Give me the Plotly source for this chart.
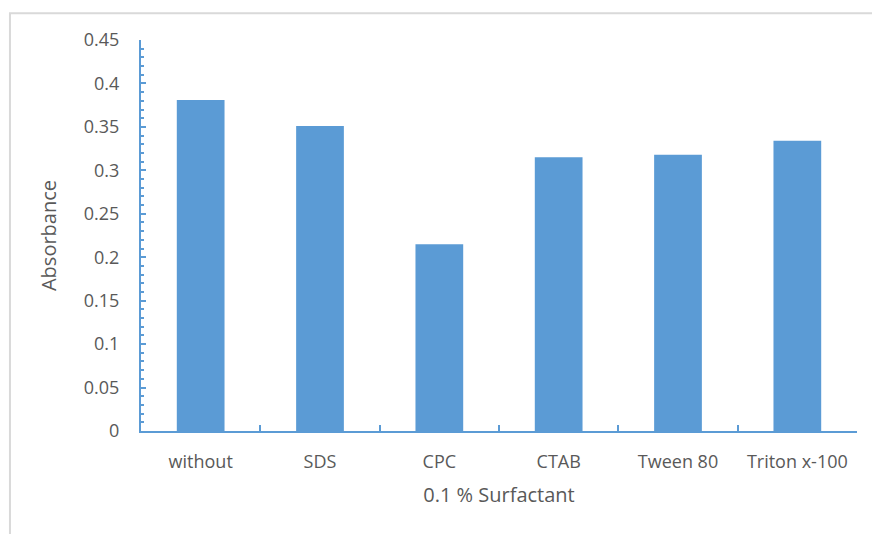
import plotly.graph_objects as go

categories = ["without", "SDS", "CPC", "CTAB", "Tween 80", "Triton x-100"]
absorbance = [0.381, 0.351, 0.215, 0.315, 0.318, 0.334]
y_ticks = [0, 0.05, 0.1, 0.15, 0.2, 0.25, 0.3, 0.35, 0.4, 0.45]
y_tick_labels = ["0", "0.05", "0.1", "0.15", "0.2", "0.25", "0.3", "0.35", "0.4", "0.45"]

BLUE = "#5B9BD5"
TEXT = "#595959"
FONT = "Open Sans, Noto Sans, sans-serif"

fig = go.Figure(
    go.Bar(
        x=categories,
        y=absorbance,
        marker=dict(color=BLUE, line=dict(width=0)),
    )
)

fig.update_layout(
    width=872,
    height=534,
    margin=dict(l=141, r=15, t=40, b=103),
    paper_bgcolor="white",
    plot_bgcolor="white",
    bargap=0.6,
    showlegend=False,
    font=dict(family=FONT, color=TEXT, size=18),
    shapes=[
        dict(
            type="rect", xref="paper", yref="paper",
            x0=-0.183, x1=1.2, y0=-0.5, y1=1.0685,
            line=dict(color="#D9D9D9", width=2),
            fillcolor="rgba(0,0,0,0)", layer="below",
        )
    ],
)

fig.update_yaxes(
    range=[0, 0.45],
    tickmode="array",
    tickvals=y_ticks,
    ticktext=y_tick_labels,
    showgrid=False,
    zeroline=False,
    showline=True,
    linecolor=BLUE,
    linewidth=2,
    ticks="inside",
    ticklen=5,
    tickwidth=2,
    tickcolor=BLUE,
    ticklabelstandoff=16,
    minor=dict(dtick=0.01, ticks="inside", ticklen=3, tickwidth=1.5, tickcolor=BLUE),
    tickfont=dict(size=18, color=TEXT),
    title=dict(text="Absorbance", font=dict(size=20, color=TEXT), standoff=22),
)

fig.update_xaxes(
    showgrid=False,
    showline=True,
    linecolor=BLUE,
    linewidth=2,
    ticks="inside",
    tickson="boundaries",
    ticklen=6,
    tickwidth=2,
    tickcolor=BLUE,
    ticklabelstandoff=13,
    tickfont=dict(size=18, color=TEXT),
    title=dict(text="0.1 % Surfactant", font=dict(size=20, color=TEXT), standoff=16),
)

fig.write_html("out.html")
